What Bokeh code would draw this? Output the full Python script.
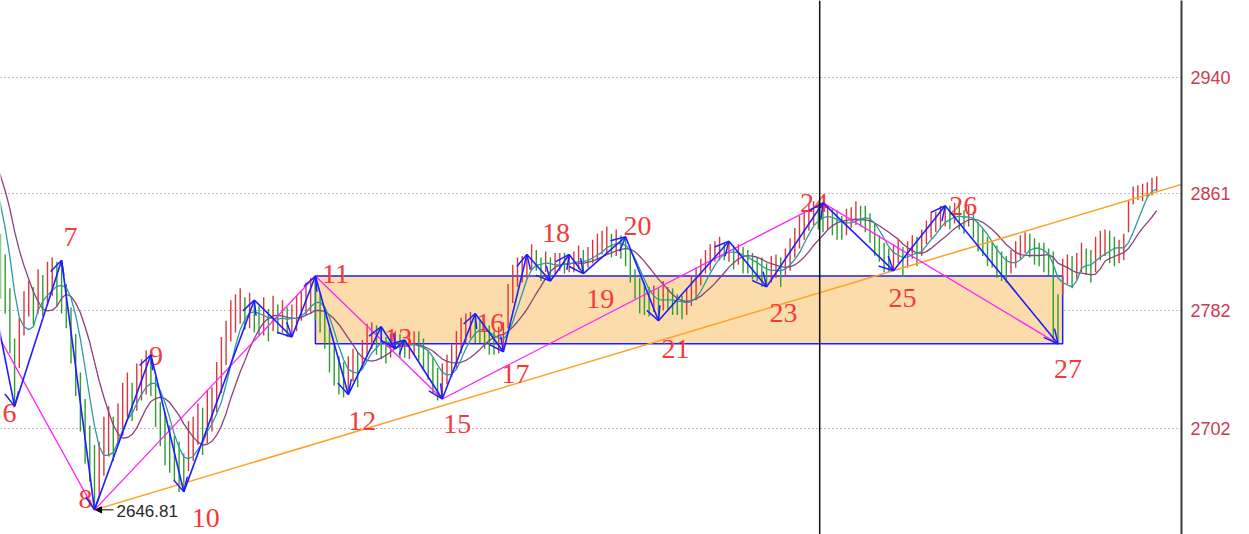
import pandas as pd
from bokeh.plotting import figure
from bokeh.models import (Range1d, FixedTicker, Span, Arrow, OpenHead, NormalHead,
                          ColumnDataSource)
from bokeh.embed import file_html
from bokeh.resources import INLINE
from bokeh.core.properties import value

# ---------------------------------------------------------------- data
FIRST_BAR = -10          # bar index of the first value below (warm-up bars for the averages)

# bar midpoints, one per bar from FIRST_BAR on
bar_mid = [
    2905, 2900, 2898, 2892, 2888, 2885, 2880, 2872, 2860, 2845,    # -10..-1
    2812, 2800, 2775, 2740, 2760, 2780, 2790, 2785, 2795, 2792,    # 0..9
    2800, 2805, 2800, 2798, 2785, 2765, 2745, 2720, 2700, 2685,    # 10..19
    2668.81, 2675, 2690, 2700, 2695, 2705, 2715, 2725, 2720, 2730, # 20..29
    2735, 2740, 2738, 2720, 2705, 2695, 2688, 2682, 2676, 2672,    # 30..39
    2690, 2695, 2705, 2700, 2710, 2715, 2730, 2745, 2760, 2775,    # 40..49
    2780, 2785, 2780, 2782, 2778, 2775, 2778, 2772, 2780, 2776,    # 50..59
    2778, 2774, 2775, 2780, 2785, 2790, 2792, 2790, 2780, 2770,    # 60..69
    2755, 2745, 2738, 2735, 2738, 2745, 2742, 2752, 2762, 2765,    # 70..79
    2762, 2760, 2755, 2758, 2762, 2758, 2756, 2758, 2760, 2758,    # 80..89
    2752, 2745, 2738, 2732, 2734, 2742, 2748, 2755, 2765, 2770,    # 90..99
    2772, 2770, 2768, 2765, 2762, 2760, 2762, 2764, 2785, 2800,    # 100..109
    2808, 2810, 2812, 2818, 2816, 2810, 2815, 2810, 2814, 2815,    # 110..119
    2814, 2814, 2815, 2818, 2815, 2818, 2822, 2825, 2828, 2830,    # 120..129
    2826, 2828, 2825, 2822, 2812, 2800, 2792, 2790, 2788, 2790,    # 130..139
    2786, 2792, 2790, 2788, 2786, 2784, 2788, 2795, 2800, 2808,    # 140..149
    2815, 2818, 2822, 2824, 2822, 2822, 2818, 2820, 2816, 2815,    # 150..159
    2812, 2810, 2808, 2806, 2810, 2812, 2808, 2815, 2820, 2828,    # 160..169
    2835, 2840, 2845, 2848, 2846, 2845, 2845, 2842, 2840, 2838,    # 170..179
    2842, 2845, 2848, 2846, 2844, 2838, 2830, 2824, 2818, 2816,    # 180..189
    2818, 2822, 2815, 2820, 2825, 2822, 2828, 2835, 2840, 2842,    # 190..199
    2845, 2846, 2845, 2848, 2846, 2842, 2846, 2840, 2832, 2828,    # 200..209
    2822, 2820, 2815, 2812, 2810, 2815, 2820, 2825, 2828, 2826,    # 210..219
    2822, 2820, 2818, 2815, 2791, 2776, 2805, 2810, 2808, 2812,    # 220..229
    2818, 2815, 2812, 2820, 2826, 2828, 2825, 2822, 2822, 2825,    # 230..239
    2846, 2860, 2862, 2862, 2864, 2866, 2868,                      # 240..246
]

# high-to-low length of each bar
bar_range = [
    24, 20, 26, 22, 28, 24, 30, 26, 34, 38,
    44, 40, 44, 46, 34, 30, 24, 26, 30, 28,
    30, 26, 30, 36, 30, 38, 42, 40, 44, 38,
    44, 36, 40, 34, 30, 28, 36, 30, 26, 32,
    28, 30, 28, 34, 30, 36, 32, 30, 34, 26,
    34, 30, 28, 32, 36, 30, 34, 38, 30, 28,
    26, 24, 22, 24, 22, 20, 26, 22, 24, 20,
    22, 20, 22, 24, 20, 22, 24, 30, 26, 28,
    30, 28, 26, 24, 26, 22, 24, 20, 22, 18,
    20, 22, 18, 16, 12, 16, 12, 18, 16, 20,
    22, 20, 24, 22, 24, 20, 22, 26, 24, 20,
    18, 20, 16, 18, 20, 16, 18, 20, 30, 26,
    20, 18, 16, 18, 14, 16, 14, 16, 14, 12,
    14, 12, 14, 16, 16, 14, 16, 18, 16, 18,
    16, 18, 16, 20, 22, 20, 24, 22, 20, 18,
    22, 20, 16, 18, 14, 16, 18, 20, 22, 18,
    16, 18, 14, 16, 12, 14, 16, 14, 18, 16,
    18, 16, 20, 16, 18, 16, 20, 18, 22, 20,
    22, 20, 18, 16, 18, 20, 16, 18, 20, 16,
    18, 14, 16, 14, 18, 20, 22, 18, 20, 16,
    18, 16, 20, 18, 16, 20, 18, 16, 18, 14,
    16, 14, 16, 14, 18, 16, 14, 18, 20, 18,
    20, 18, 22, 20, 18, 16, 18, 16, 14, 16,
    18, 16, 20, 18, 62, 34, 24, 20, 22, 18,
    20, 18, 22, 24, 20, 18, 22, 20, 16, 18,
    22, 12, 10, 12, 10, 12, 10,
]

# blue swing line: turning bars and prices
zz_bar = [-2, 3, 13, 20, 32, 39, 54, 62, 67, 74, 81, 84, 86, 94,
          101, 107, 112, 117, 121, 124, 133, 140, 155, 163, 175, 190, 201, 225]
zz_price = [2797, 2717, 2816, 2646.81, 2752, 2659, 2789, 2764, 2805.4, 2725, 2771, 2756,
            2762, 2722, 2780, 2754, 2820, 2802, 2820, 2807, 2832, 2775, 2829, 2798,
            2855, 2809, 2853, 2759.4]

# magenta swing line (larger degree)
mg_bar = [-23, 20, 67, 94, 175, 225]
mg_price = [2895, 2646.81, 2805.4, 2722, 2855, 2759.4]

# wave numbers and the swing point each one belongs to (index into zz_*)
wave_text = ["6", "7", "8", "9", "10", "11", "12", "13", "15", "16",
             "17", "18", "19", "20", "21", "23", "24", "25", "26", "27"]
wave_pivot = [1, 2, 3, 4, 5, 8, 9, 10, 13, 14, 15, 16, 19, 20, 21, 23, 24, 25, 26, 27]

price_ticks = [2702, 2782, 2861, 2940]
marker_bar = 174.3

# ---------------------------------------------------------------- layout
W, H = 1249, 534
AXIS_W = 68
FRAME_W = W - AXIS_W
X0, X1 = 0, 251.28
Y0, Y1 = 2630.1, 2992.2
px_x = FRAME_W / (X1 - X0)
px_y = H / (Y1 - Y0)

# pixel offsets of the wave numbers from their swing points (right, down)
wave_dx = [-5, 9, -9, 5, 22, 20, 14, 17, 15, 15, 12, 29, 17, 12, 17, 17, -9, 9, 18, 10]
wave_dy = [7, -23, -11, 1, 26, -2, 26, 11, 25, 10, 22, -21, 25, -11, 28, 26, 0, 27, 0, 25]

p = figure(width=W, height=H, output_backend="svg", toolbar_location=None,
           x_range=Range1d(X0, X1), y_range=Range1d(Y0, Y1),
           y_axis_location="right", x_axis_location=None,
           min_border_left=0, min_border_top=0, min_border_bottom=0,
           min_border_right=AXIS_W)
p.outline_line_color = None
p.background_fill_color = "white"
p.border_fill_color = "white"

p.xgrid.visible = False
p.ygrid.ticker = FixedTicker(ticks=price_ticks)
p.ygrid.grid_line_color = "#7a7a7a"
p.ygrid.grid_line_dash = "1 3"
p.ygrid.grid_line_width = 1

ax = p.yaxis[0]
ax.ticker = FixedTicker(ticks=price_ticks)
ax.axis_line_color = "#3a3a3a"
ax.axis_line_width = 2
ax.major_tick_line_color = None
ax.minor_tick_line_color = None
ax.major_label_standoff = 3
ax.major_label_text_color = "#d0394f"
ax.major_label_text_font = "Liberation Sans"
ax.major_label_text_font_size = "18px"

# ---------------------------------------------------------------- price box between wave 11 and wave 27
box_l = zz_bar[8]
box_r = zz_bar[27] + 1
p.quad(left=[box_l], right=[box_r], top=[zz_price[8]], bottom=[zz_price[27]],
       fill_color="#fcdcaa", line_color="#1e1eff", line_width=1.5)

# ---------------------------------------------------------------- bars
bars = pd.DataFrame({"mid": bar_mid, "rng": bar_range})
bars["x"] = range(FIRST_BAR, FIRST_BAR + len(bars))
bars["hi"] = bars["mid"] + bars["rng"] / 2
bars["lo"] = bars["mid"] - bars["rng"] / 2
rising = bars["mid"].diff().fillna(-1) >= 0
bars["color"] = ["#d8383c" if r else "#2e9e2e" for r in rising]
p.segment(x0="x", y0="lo", x1="x", y1="hi", color="color", line_width=1.4,
          source=ColumnDataSource(bars))

# ---------------------------------------------------------------- moving averages
ma_fast = bars["mid"].rolling(5).mean()
ma_slow = bars["mid"].rolling(10).mean()
ok_f = ma_fast.notna()
ok_s = ma_slow.notna()
p.line(bars["x"][ok_s], ma_slow[ok_s], line_color="#8e3f82", line_width=1.3)
p.line(bars["x"][ok_f], ma_fast[ok_f], line_color="#2b9c9c", line_width=1.3)

# ---------------------------------------------------------------- trend line through waves 8 and 25
slope = (zz_price[25] - zz_price[3]) / (zz_bar[25] - zz_bar[3])
t_end = X1 + 5
p.line([zz_bar[3], t_end], [zz_price[3], zz_price[3] + slope * (t_end - zz_bar[3])],
       line_color="#ffa126", line_width=1.5)

# ---------------------------------------------------------------- magenta swings
p.line(mg_bar, mg_price, line_color="#ff22ff", line_width=1.3)

# ---------------------------------------------------------------- wave numbers
lx = [zz_bar[k] + dx / px_x for k, dx in zip(wave_pivot, wave_dx)]
ly = [zz_price[k] - dy / px_y for k, dy in zip(wave_pivot, wave_dy)]
p.text(x=lx, y=ly, text=wave_text, text_font=value("Liberation Serif"),
       text_font_size="28px", text_color="#f53a3a",
       text_align="center", text_baseline="middle")

# ---------------------------------------------------------------- blue swing arrows
seg = ColumnDataSource(dict(x0=zz_bar[:-1], y0=zz_price[:-1],
                            x1=zz_bar[1:], y1=zz_price[1:]))
p.add_layout(Arrow(end=OpenHead(size=14, line_color="#1e1eff", line_width=1.5),
                   x_start="x0", y_start="y0", x_end="x1", y_end="y1",
                   line_color="#1e1eff", line_width=1.6, source=seg))

# ---------------------------------------------------------------- lowest low tag
low_k = 3
p.add_layout(Arrow(end=NormalHead(size=6, fill_color="black", line_color="black"),
                   x_start=zz_bar[low_k] + 19 / px_x, y_start=zz_price[low_k],
                   x_end=zz_bar[low_k] + 1 / px_x, y_end=zz_price[low_k],
                   line_color="black", line_width=1))
p.text(x=[zz_bar[low_k] + 22 / px_x], y=[zz_price[low_k] - 1 / px_y],
       text=[f"{zz_price[low_k]:.2f}"], text_font=value("Liberation Sans"),
       text_font_size="17px", text_color="#2a2a2a",
       text_align="left", text_baseline="middle")

# ---------------------------------------------------------------- cursor line
p.add_layout(Span(location=marker_bar, dimension="height",
                  line_color="#111111", line_width=1.5))

open("out.html", "w").write(file_html(p, INLINE))
